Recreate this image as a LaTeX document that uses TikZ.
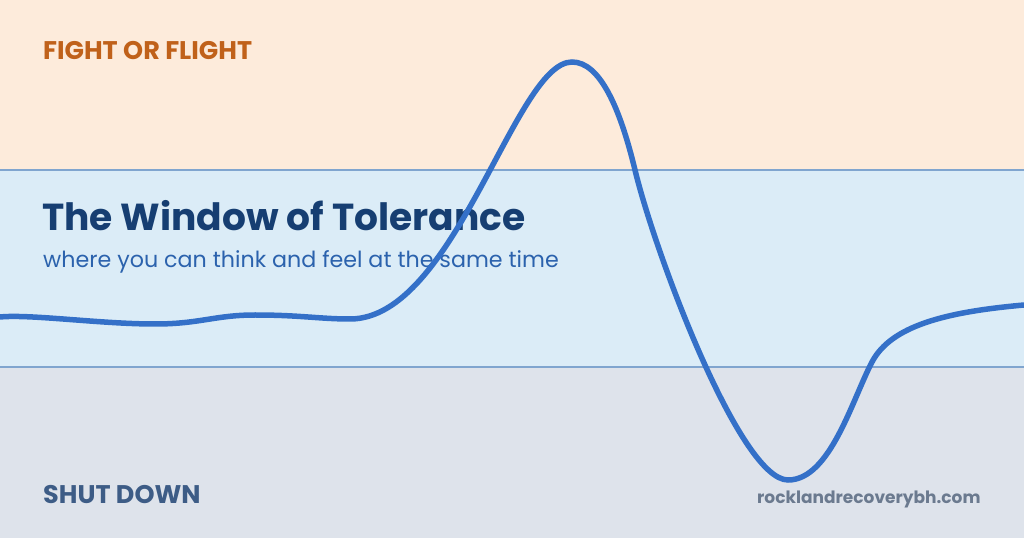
\documentclass[tikz,border=0pt]{standalone}
\usepackage{fontspec}
\setmainfont{Poppins}
\usepackage{tikz}

\definecolor{peach}{HTML}{FDEBDB}
\definecolor{paleblue}{HTML}{DBECF7}
\definecolor{palegray}{HTML}{DEE3EB}
\definecolor{bandline}{HTML}{80A5CF}
\definecolor{wave}{HTML}{3470C8}
\definecolor{fightcol}{HTML}{C0611A}
\definecolor{titlecol}{HTML}{163E72}
\definecolor{subcol}{HTML}{2B62AD}
\definecolor{shutcol}{HTML}{3D5C86}
\definecolor{urlcol}{HTML}{6B7A8F}

\begin{document}
\begin{tikzpicture}[x=1pt, y=1pt,
  label/.style={anchor=base west, inner sep=0pt},
  border/.style={bandline, line width=2pt}]
  \useasboundingbox (0,0) rectangle (1024,538);
  % the three zones
  \fill [peach] (0,368) rectangle (1024,538);
  \fill [paleblue] (0,171) rectangle (1024,368);
  \fill [palegray] (0,0) rectangle (1024,171);
  \draw [border] (0,368) -- (1024,368);
  \draw [border] (0,171) -- (1024,171);
  % texts
  \node [label, text=fightcol, font=\fontsize{25.5}{30}\selectfont\bfseries] (fight) at (43,478) {FIGHT OR FLIGHT};
  \node [label, text=titlecol, font=\fontsize{37.6}{44}\selectfont\bfseries] (title) at (42,307) {The Window of Tolerance};
  \node [label, text=subcol, font=\fontsize{22.2}{26}\selectfont] (sub) at (43,270) {where you can think and feel at the same time};
  \node [label, text=shutcol, font=\fontsize{25.5}{30}\selectfont\bfseries] (shut) at (43,35) {SHUT DOWN};
  \node [label, text=urlcol, font=\fontsize{17}{20}\selectfont\bfseries] (url) at (757,35) {rocklandrecoverybh.com};
  % the wave
  \draw [wave, line width=5.5pt, line cap=round]
    (0,221) .. controls (30,224) and (100,214) .. (155,214)
    .. controls (200,214) and (215,223) .. (255,223)
    .. controls (300,223) and (320,219) .. (350,219)
    .. controls (455,219) and (515,476) .. (572,476)
    .. controls (600,476) and (620,430) .. (635,368)
    .. controls (655,285) and (740,58) .. (788,58)
    .. controls (830,58) and (852,138) .. (872,176)
    .. controls (891,212) and (945,226) .. (1024,233);
\end{tikzpicture}
\end{document}
